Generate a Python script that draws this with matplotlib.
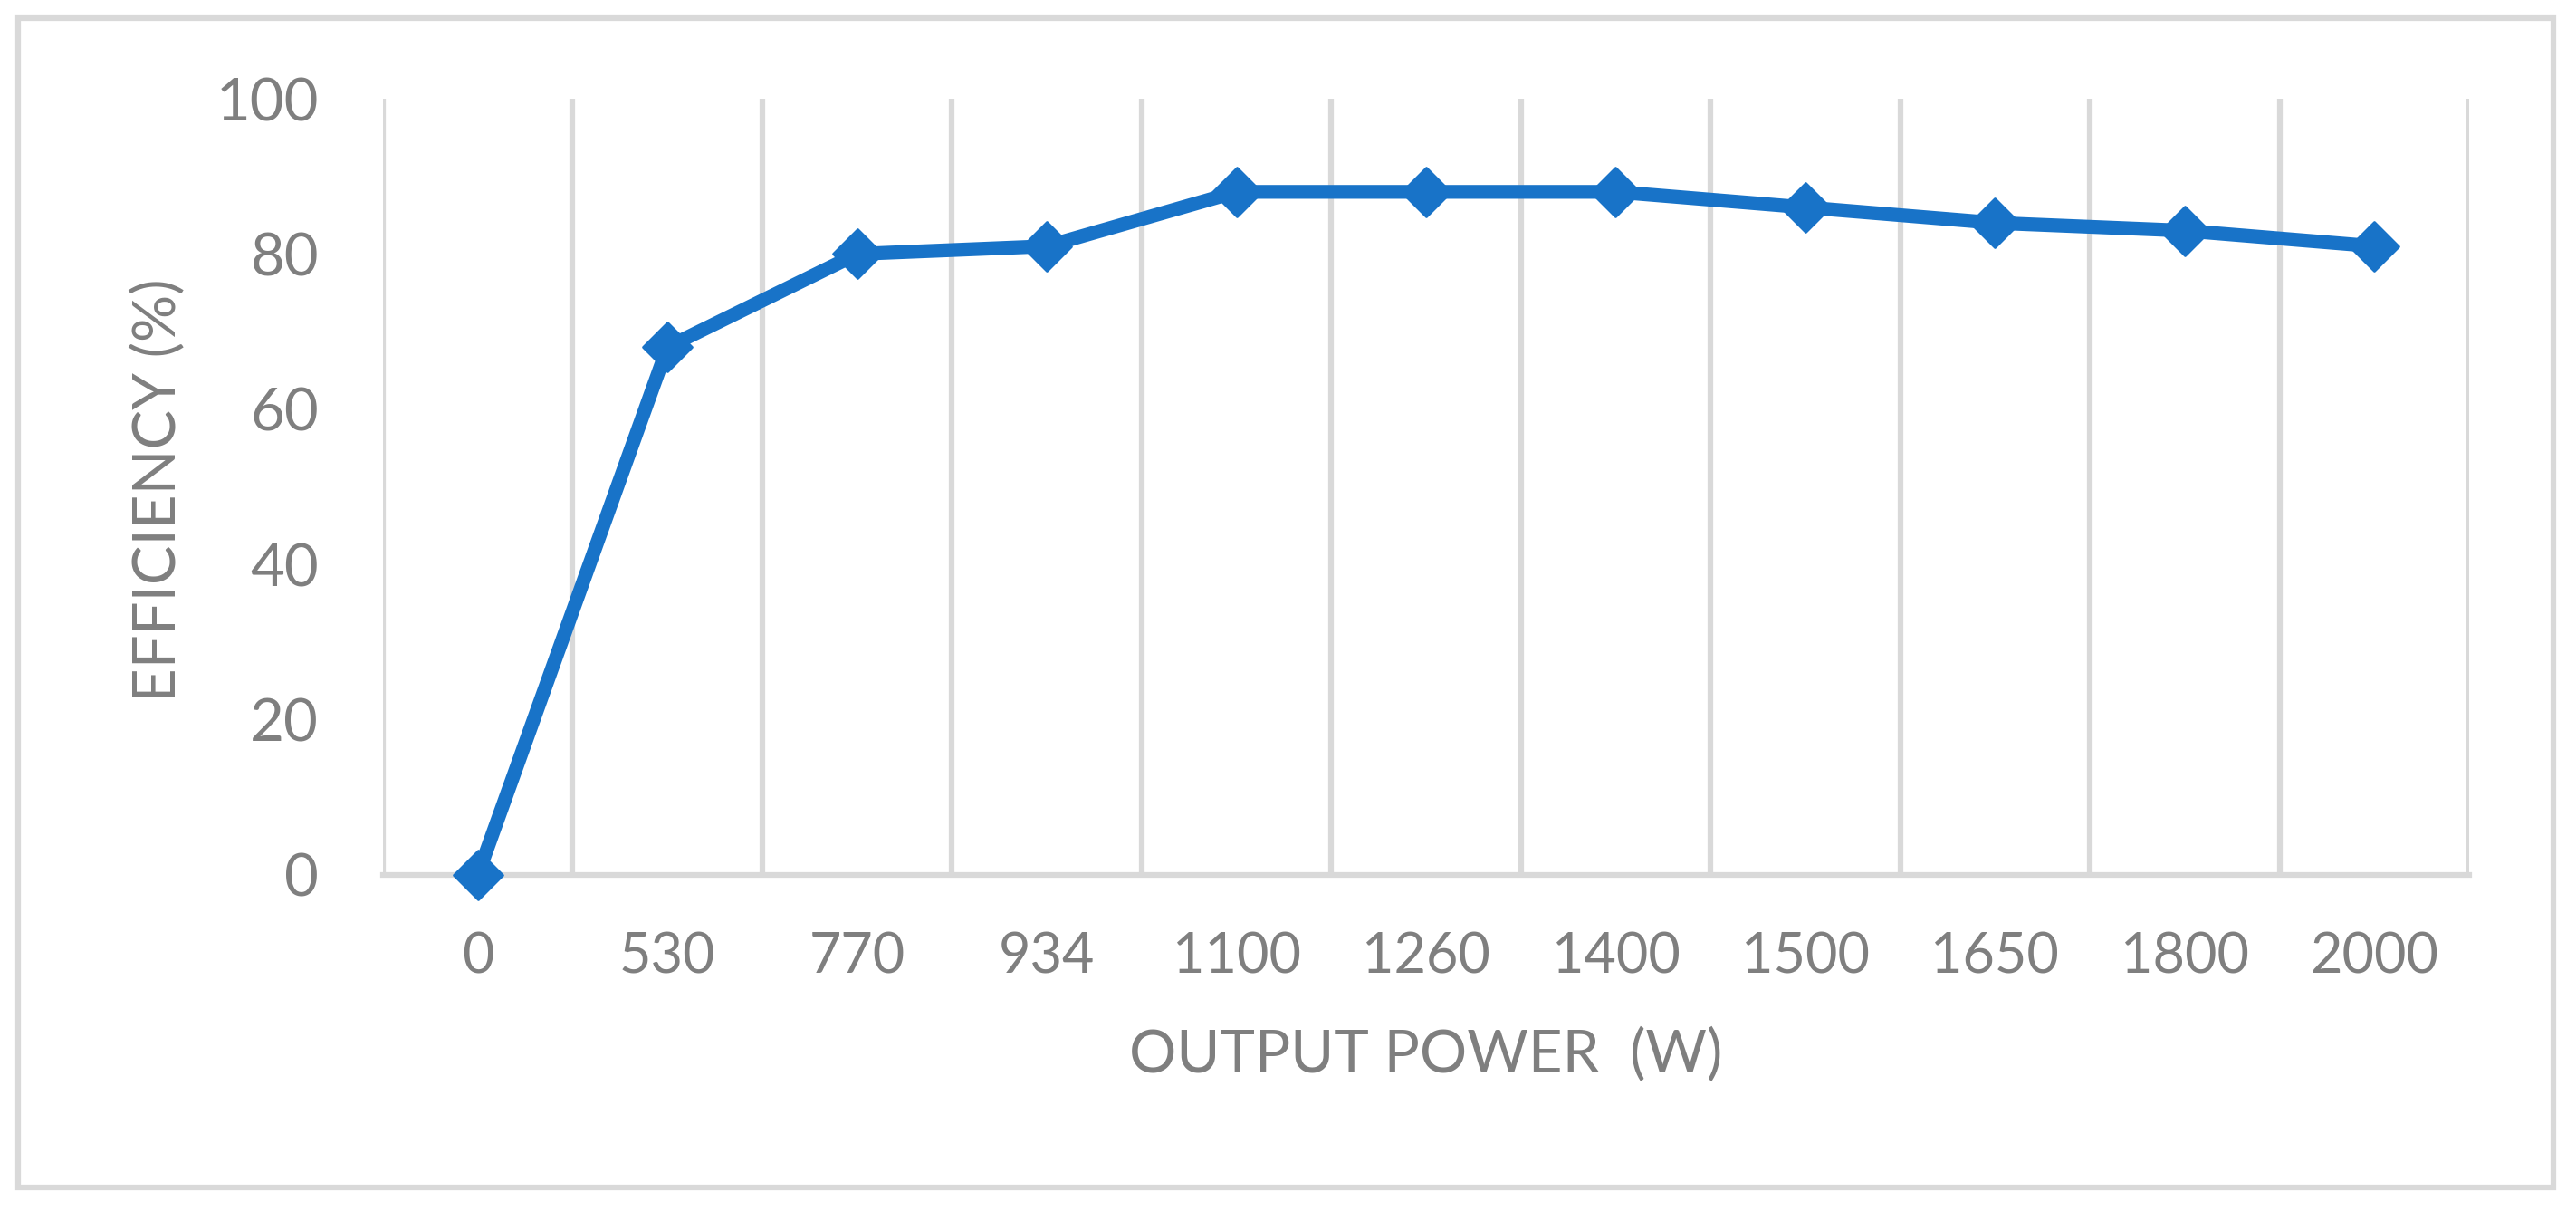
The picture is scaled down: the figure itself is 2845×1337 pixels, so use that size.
import matplotlib
matplotlib.use('Agg')
import matplotlib.pyplot as plt
from matplotlib.markers import MarkerStyle
from matplotlib.patches import Rectangle

# donnees
puissance = ['0', '530', '770', '934', '1100', '1260', '1400', '1500', '1650', '1800', '2000']
rendement = [0, 68, 80, 81, 88, 88, 88, 86, 84, 83, 81]
graduations_y = [0, 20, 40, 60, 80, 100]

gris_texte = '#7f7f7f'
gris_ligne = '#d9d9d9'
bleu = '#1873c8'

plt.rcParams['font.family'] = ['Lato', 'DejaVu Sans']

W, H = 2845, 1337
fig = plt.figure(figsize=(W / 100, H / 100), dpi=100)
ax = fig.add_axes([423 / W, 371 / H, 2304 / W, 857 / H])

x = list(range(len(puissance)))
ax.plot(x, rendement, color=bleu, lw=11,
        marker=MarkerStyle('D', joinstyle='round'), ms=27, mew=2,
        mec=bleu, mfc=bleu, solid_joinstyle='round',
        clip_on=False, zorder=3)

ax.set_xlim(-0.5, len(puissance) - 0.5)
ax.set_ylim(0, 100)
ax.set_xticks(x)
ax.set_xticklabels(puissance)
ax.set_xticks([i - 0.5 for i in range(len(puissance) + 1)], minor=True)
ax.set_yticks(graduations_y)

# seulement les lignes verticales entre les categories
ax.grid(True, which='minor', axis='x', color=gris_ligne, lw=4.5)
ax.tick_params(which='both', length=0)
ax.tick_params(axis='y', labelsize=47, labelcolor=gris_texte, pad=51)
ax.tick_params(axis='x', labelsize=44, labelcolor=gris_texte, pad=45)

for cote in ['top', 'right', 'left']:
    ax.spines[cote].set_visible(False)
ax.spines['bottom'].set_color(gris_ligne)
ax.spines['bottom'].set_linewidth(4.5)

ax.set_xlabel('OUTPUT POWER  (W)', fontsize=47, color=gris_texte, va='center')
ax.xaxis.set_label_coords(0.5, -0.231)
ax.set_ylabel('EFFICIENCY (%)', fontsize=47, color=gris_texte, va='center')
ax.yaxis.set_label_coords(-0.108, 0.496)

# cadre autour du graphique
fig.add_artist(Rectangle((20 / W, 26 / H), 2800 / W, 1291 / H,
                         transform=fig.transFigure, fill=False,
                         ec=gris_ligne, lw=4.5))

fig.savefig('out.png', dpi=100)
